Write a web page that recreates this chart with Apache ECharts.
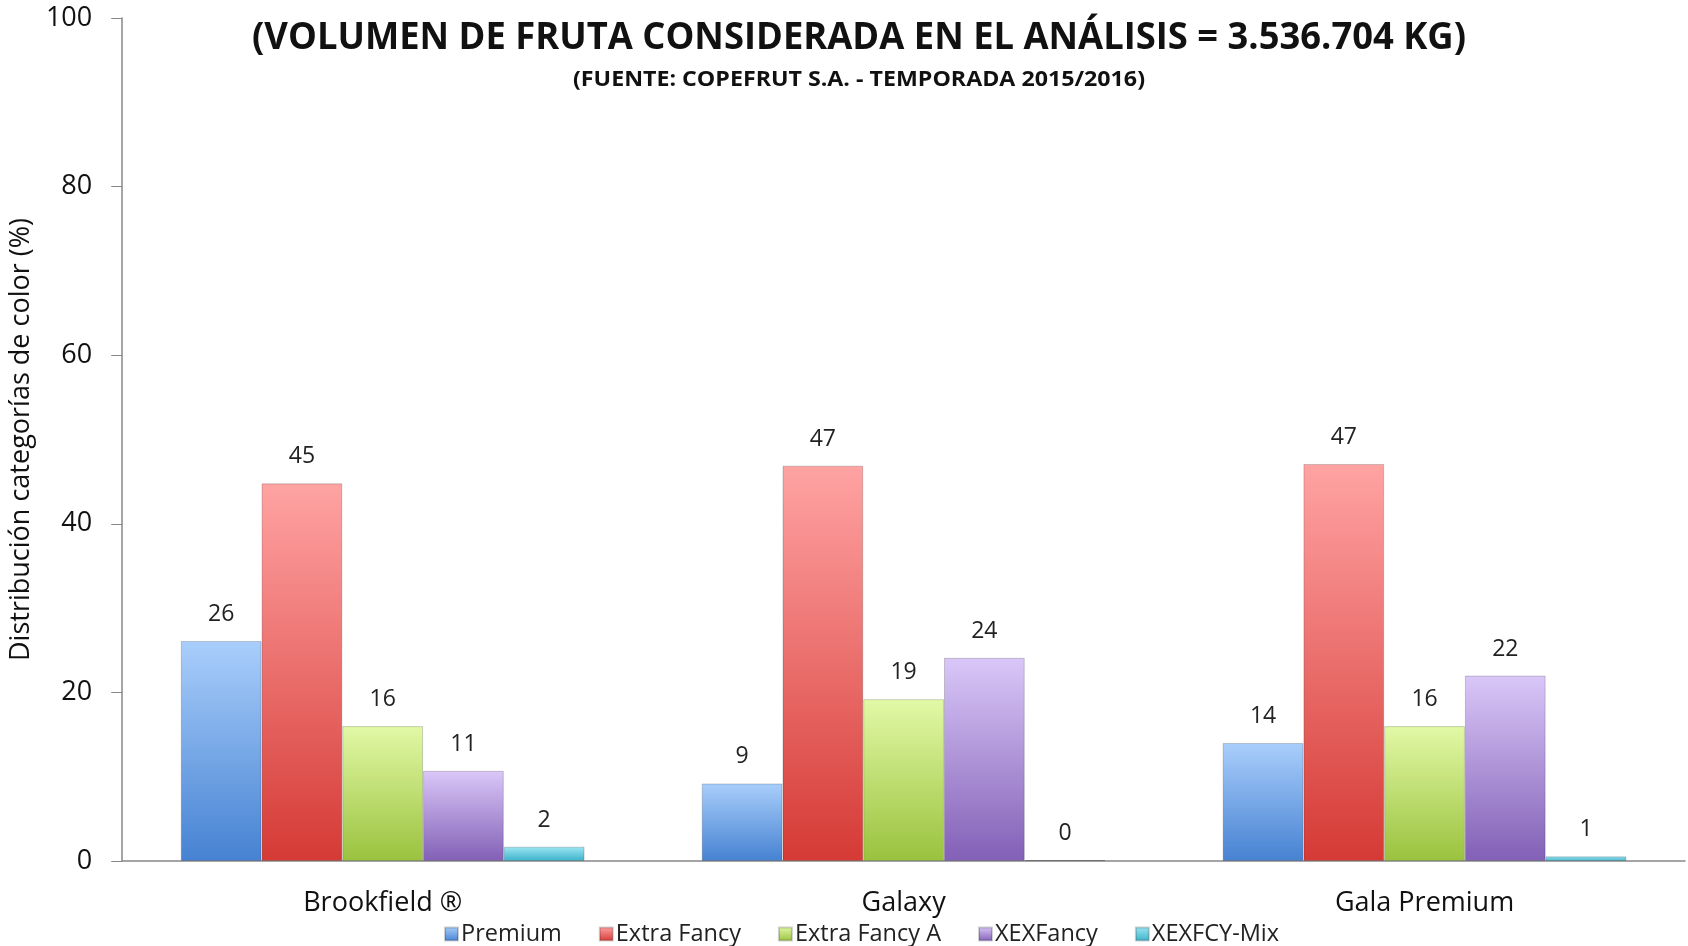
<!DOCTYPE html>
<html>
<head>
<meta charset="utf-8">
<script src="https://cdn.jsdelivr.net/npm/echarts@6/dist/echarts.min.js"></script>
<style>
  html, body { margin: 0; padding: 0; background: #fff; }
  #main { width: 1688px; height: 946px; }
</style>
</head>
<body>
<div id="main"></div>
<script>
// datos
var categorias = ['Brookfield ®', 'Galaxy', 'Gala Premium'];
var premium = [26.1, 9.2, 14.0];
var extraFancy = [44.8, 46.9, 47.1];
var extraFancyA = [16.0, 19.2, 16.0];
var xexFancy = [10.7, 24.1, 22.0];
var xexfcyMix = [1.7, 0.1, 0.55];
var yTicks = [0, 20, 40, 60, 80, 100];

var titulo = '(VOLUMEN DE FRUTA CONSIDERADA EN EL ANÁLISIS = 3.536.704 KG)';
var subtitulo = '(FUENTE: COPEFRUT S.A. - TEMPORADA 2015/2016)';

var myChart = echarts.init(document.getElementById('main'));

// la fuente original es estrecha (Calibri); se comprime en horizontal
var ctx = document.createElement('canvas').getContext('2d');
function anchoTexto(txt, font) {
  ctx.font = font;
  return ctx.measureText(txt).width;
}
var fTit = 'bold 37px "Open Sans"';
var fSub = 'bold 21px "Open Sans"';
var sTit = 1214 / anchoTexto(titulo, fTit);
var sSub = 572 / anchoTexto(subtitulo, fSub);

function grad(top, bottom) {
  return new echarts.graphic.LinearGradient(0, 0, 0, 1, [
    { offset: 0, color: top },
    { offset: 1, color: bottom }
  ]);
}

function serie(name, data, top, bottom) {
  return {
    name: name,
    type: 'bar',
    data: data,
    barGap: '0%',
    barCategoryGap: '22.5%',
    itemStyle: { color: grad(top, bottom), borderColor: 'rgba(0,0,0,0.18)', borderWidth: 1 },
    label: {
      show: true,
      position: 'top',
      distance: 15,
      fontSize: 23,
      color: '#222',
      fontFamily: 'Open Sans',
      formatter: function (p) { return Math.round(p.value); }
    }
  };
}

var option = {
  animation: false,
  backgroundColor: '#fff',
  graphic: [{
    type: 'text',
    x: 859, y: 38,
    scaleX: sTit,
    style: {
      text: titulo, font: fTit, fill: '#111', align: 'center', verticalAlign: 'middle',
      shadowColor: 'rgba(0,0,0,0.35)', shadowOffsetX: 2, shadowOffsetY: 2, shadowBlur: 2
    }
  }, {
    type: 'text',
    x: 859, y: 80,
    scaleX: sSub,
    style: {
      text: subtitulo, font: fSub, fill: '#111', align: 'center', verticalAlign: 'middle',
      shadowColor: 'rgba(0,0,0,0.3)', shadowOffsetX: 1, shadowOffsetY: 1, shadowBlur: 1
    }
  }],
  legend: {
    top: 917,
    left: 439,
    itemWidth: 13,
    itemHeight: 13,
    itemGap: 37,
    icon: 'rect',
    textStyle: { fontFamily: 'Open Sans', fontSize: 23.5, color: '#222', padding: [0, 0, 0, -2] }
  },
  grid: { left: 115, right: 3, top: 18, bottom: 85 },
  xAxis: {
    type: 'category',
    data: categorias,
    axisLine: { lineStyle: { color: '#888', width: 1.5 } },
    axisTick: { show: false },
    axisLabel: { fontFamily: 'Open Sans', fontSize: 27, color: '#111', margin: 29 }
  },
  yAxis: {
    type: 'value',
    min: yTicks[0],
    max: yTicks[yTicks.length - 1],
    interval: 20,
    name: 'Distribución categorías de color (%)',
    nameLocation: 'middle',
    nameGap: 78,
    nameTextStyle: { fontFamily: 'Open Sans', fontSize: 27, color: '#111' },
    axisLine: { show: true, lineStyle: { color: '#888', width: 1.5 } },
    axisTick: { show: true, length: 11, lineStyle: { color: '#888' } },
    splitLine: { show: false },
    axisLabel: { fontFamily: 'Open Sans', fontSize: 27, color: '#111', margin: 30 }
  },
  series: [
    serie('Premium', premium, '#A9CEFB', '#4682D2'),
    serie('Extra Fancy', extraFancy, '#FFA3A3', '#D53A35'),
    serie('Extra Fancy A', extraFancyA, '#E2F9A6', '#9AC23E'),
    serie('XEXFancy', xexFancy, '#DAC7F8', '#8260B6'),
    serie('XEXFCY-Mix', xexfcyMix, '#9EE6F3', '#3CB2CA')
  ]
};

myChart.setOption(option);
</script>
</body>
</html>
